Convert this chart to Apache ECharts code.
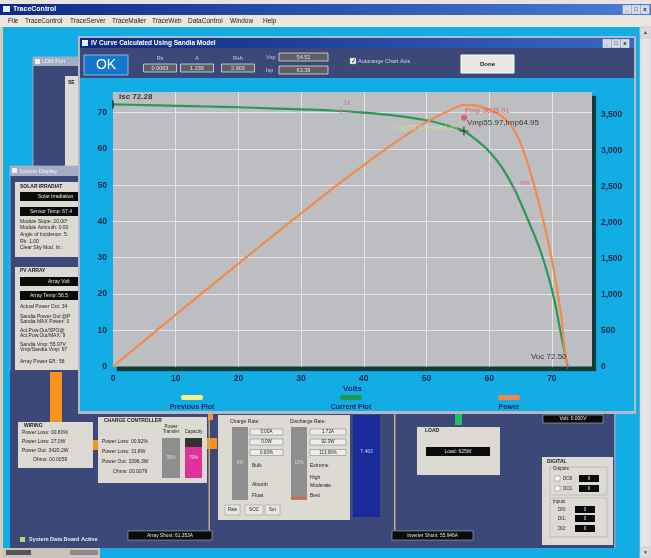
<!DOCTYPE html>
<html><head><meta charset="utf-8">
<script src="https://cdn.jsdelivr.net/npm/echarts@6/dist/echarts.min.js"></script>
<style>html,body{margin:0;padding:0;background:#12ade4;overflow:hidden}#c{width:651px;height:558px}</style>
</head><body><div id="c"></div>
<script>
// ---------- DATA ----------
const volts       = [0, 5, 10, 15, 20, 25, 30, 35, 40, 45, 50, 53, 55.97, 58, 60, 62, 64, 66, 68, 69.5, 70.5, 71.5, 72.1, 72.5];
const currentAmps = [72.28, 72.1, 71.9, 71.7, 71.5, 71.2, 70.9, 70.6, 70.0, 69.2, 67.9, 66.6, 64.95, 62.4, 59.3, 55.0, 49.0, 41.2, 32.8, 24.5, 17.5, 8.5, 3.5, 0];
const powerWatts  = [0, 360, 719, 1075, 1430, 1780, 2127, 2471, 2800, 3114, 3395, 3530, 3635, 3625, 3570, 3480, 3290, 2866, 2250, 1700, 1240, 700, 190, 0];

const xAxisMax = 76.4, ampsAxisMax = 75.7, wattsAxisMax = 3815;
const xTickStep = 10, ampsTickStep = 10, wattsTickStep = 500;

const legendNames  = ['Previous Plot', 'Current Plot', 'Power'];
const legendColors = ['#f7f08a', '#1d9a50', '#f08848'];

const iscPoint  = [0, 72.28];
const ixPoint   = [36.3, 70.6];
const ixxPoint  = [64.0, 49.0];
const pmpMarker = [56.0, 68.6];
const vmpPoint  = [55.97, 64.95];
const vocPoint  = [72.5, 0];
const annotationTexts = { isc: 'Isc 72.28', ix: 'Ix', ixx: 'Ixx', pmp: 'Pmp 3635.91', vmp: 'Vmp55.97,Imp64.95', prev: 'Vmp55.97,Imp64.95', voc: 'Voc 72.50' };

// ---------- helpers for window chrome ----------
const FONT = '"Liberation Sans", Arial, sans-serif';
const NAVY = '#3b4878', PANEL = '#dcdad3', CYAN = '#12ade4', ORANGE = '#f7941d', BLACK = '#0b0b0b';
let zc = 0;
function R(x, y, w, h, fill, stroke, lw, r, z) {
  return { type: 'rect', silent: true, z: z || -20, z2: zc++, shape: { x: x, y: y, width: w, height: h, r: r || 0 },
    style: { fill: fill, stroke: stroke || null, lineWidth: stroke ? (lw || 1) : 0 } };
}
function T(x, y, text, fill, size, weight, align, z) {
  return { type: 'text', silent: true, z: z || -20, z2: zc++,
    style: { x: x, y: y, text: text, fill: fill, font: (weight || 'normal') + ' ' + size + 'px ' + FONT, align: align || 'left', verticalAlign: 'middle' } };
}
function winBtns(x, y, s) {
  const out = [];
  ['_', '□', 'x'].forEach((c, i) => { out.push(R(x + i * (s + 1), y, s, s, '#d4d8e4', '#ffffff', 0.5)); out.push(T(x + i * (s + 1) + s / 2, y + s / 2, c, '#222', s - 2, 'bold', 'center')); });
  return out;
}
const grad = (a, b) => new echarts.graphic.LinearGradient(0, 0, 1, 0, [{ offset: 0, color: a }, { offset: 1, color: b }]);

const g = [];
// app frame
g.push(R(0, 0, 651, 4, '#e9e2de'));
g.push(R(0, 4, 651, 11, grad('#0b2a86', '#4a7dd6')));
g.push(R(3, 6, 7, 6, '#e8eef8'));
g.push(T(13, 9.5, 'TraceControl', '#ffffff', 7, 'bold'));
g.push(...winBtns(623, 5.5, 8));
g.push(R(0, 15, 651, 12, '#ebe7df'));
[['File', 8], ['TraceControl', 25], ['TraceServer', 70], ['TraceMailer', 112], ['TraceWeb', 152], ['DataControl', 188], ['Window', 230], ['Help', 263]]
  .forEach(m => g.push(T(m[1], 21, m[0], '#222', 6.5)));
g.push(R(640, 27, 11, 531, '#e4e4e4', '#c8c8c8', 0.5));
g.push(R(640, 27, 11, 11, '#dadada', '#bdbdbd', 0.5)); g.push(T(645.5, 32.5, '▲', '#444', 5, 'normal', 'center'));
g.push(R(640, 547, 11, 11, '#dadada', '#bdbdbd', 0.5)); g.push(T(645.5, 552.5, '▼', '#444', 5, 'normal', 'center'));
g.push(R(0, 27, 3, 531, '#d6ccb6'));

// LDM window
g.push(R(33, 57, 50, 110, NAVY, '#b0b4c0', 0.8));
g.push(R(33, 57, 50, 9, '#a4acc6'));
g.push(R(35, 59, 5, 5, '#f0f0f0'));
g.push(T(42, 61.5, 'LDM Port', '#f4f4f8', 5.5));
g.push(R(65, 76, 18, 91, PANEL));
g.push(T(68, 83, 'SE', '#222', 5, 'bold'));

// System display window
g.push(R(10, 166, 72, 206, NAVY, '#b0b4c0', 0.8));
g.push(R(10, 166, 72, 10, '#a4acc6'));
g.push(R(12, 168, 5, 5, '#f0f0f0'));
g.push(T(19, 171, 'System Display', '#f4f4f8', 5.5));
g.push(R(15, 182, 67, 75, PANEL));
g.push(T(20, 186.5, 'SOLAR IRRADIAT', '#1a1a1a', 5, 'bold'));
g.push(R(20, 192, 62, 9, BLACK)); g.push(T(38, 196.5, 'Solar Irradiation', '#e8e8e8', 5));
g.push(R(20, 207, 62, 9, BLACK)); g.push(T(30, 211.5, 'Sensor Temp: 67.4', '#e8e8e8', 5));
[['Module Slope: 20.00°', 222], ['Module Azimuth: 0.00', 228], ['Angle of Incidence: 5.', 235], ['Rb: 1.00', 242], ['Clear Sky Mod. Irr.: ', 248]]
  .forEach(l => g.push(T(20, l[1], l[0], '#222', 5)));
g.push(R(15, 267, 67, 103, PANEL));
g.push(T(20, 271, 'PV ARRAY', '#1a1a1a', 5, 'bold'));
g.push(R(20, 277, 62, 9, BLACK)); g.push(T(48, 281.5, 'Array Volt', '#e8e8e8', 5));
g.push(R(20, 291, 62, 9, BLACK)); g.push(T(30, 295.5, 'Array Temp: 56.5', '#e8e8e8', 5));
[['Actual Power Out: 34', 307], ['Sandia Power Out @P', 317], ['Sandia MAX Power: 3', 322], ['Act.Pow.Out/SPO@', 331], ['Act.Pow.Out/MAX: 9', 336],
 ['Sandia Vmp: 55.97V', 345], ['Vmp/Sandia Vmp: 97', 350], ['Array Power Eff.: 58', 362]].forEach(l => g.push(T(20, l[1], l[0], '#222', 5)));

// lower navy desktop
g.push(R(10, 370, 605, 178, NAVY));
g.push(R(614, 370, 1.5, 178, '#9aa0b8'));
g.push(R(50, 372, 12, 50, ORANGE));

// IV dialog
g.push(R(78, 36, 558, 378, '#b4b8c4'));
g.push(R(80, 38, 554, 10, grad('#0b2a80', '#3a66c0')));
g.push(R(82, 40, 6, 6, '#e8eef8'));
g.push(T(91, 43, 'IV Curve Calculated Using Sandia Model', '#ffffff', 6.5, 'bold'));
g.push(...winBtns(603, 39.5, 8));
g.push(R(80, 48, 554, 30, NAVY));
g.push(R(80, 78, 554, 333, CYAN));
g.push(R(84, 55, 44, 20, '#1577cc', '#7fb8e8', 1));
g.push(T(106, 65.5, 'OK', '#ffffff', 14, 'normal', 'center'));
[['Rs', 160, '0.0063'], ['A', 197, '1.239'], ['Rsh', 238, '2.903']].forEach(p => {
  g.push(T(p[1], 58, p[0], '#c8ccda', 5.5, 'normal', 'center'));
  g.push(R(p[1] - 16.5, 64, 33, 8, '#5d5f66', '#e0e0e0', 0.8));
  g.push(T(p[1], 68, p[2], '#e0e0e0', 5.5, 'normal', 'center'));
});
g.push(T(266, 57.5, 'Vsp', '#c8ccda', 5.5));
g.push(R(279, 53, 49, 8, '#5d5f66', '#e0e0e0', 0.8)); g.push(T(303.5, 57, '54.52', '#e0e0e0', 5.5, 'normal', 'center'));
g.push(T(266, 70, 'Isp', '#c8ccda', 5.5));
g.push(R(279, 66, 49, 8, '#5d5f66', '#e0e0e0', 0.8)); g.push(T(303.5, 70, '63.39', '#e0e0e0', 5.5, 'normal', 'center'));
g.push(R(350, 58, 6, 6, '#ffffff', '#888', 0.5)); g.push(T(353, 61, '✓', '#222', 5.5, 'bold', 'center'));
g.push(T(358, 61, 'Autorange Chart Axis', '#d0d4e0', 5.5));
g.push(R(461, 55, 53, 18, '#e8e6de', '#ffffff', 1));
g.push(T(487.5, 64, 'Done', '#222', 6, 'bold', 'center'));

// legend
[181, 340, 498].forEach((sx, i) => {
  g.push(R(sx, 395, 22, 5, legendColors[i], null, 0, 2, 10));
  g.push(T(sx + 11, 407, legendNames[i], '#1b2a66', 7, 'bold', 'center', 10));
});

// WIRING
g.push(R(18, 422, 75, 46, PANEL));
g.push(T(24, 425.5, 'WIRING', '#1a1a1a', 5, 'bold'));
[['Power Loss: 00.80%', 433], ['Power Loss: 27.0W', 442], ['Power Out: 3420.2W', 451]].forEach(l => g.push(T(22, l[1], l[0], '#222', 5)));
g.push(T(33, 460, 'Ohms: 00.0059', '#222', 5));
g.push(R(93, 440, 6, 10, ORANGE));
// CHARGE CONTROLLER
g.push(R(98, 417, 109, 66, PANEL));
g.push(T(104, 420.5, 'CHARGE CONTROLLER', '#1a1a1a', 5, 'bold'));
g.push(T(171, 427, 'Power', '#222', 4.5, 'normal', 'center'));
g.push(T(171, 432, 'Transfer', '#222', 4.5, 'normal', 'center'));
g.push(T(193.5, 432, 'Capacity', '#222', 4.5, 'normal', 'center'));
[['Power Loss: 00.92%', 442], ['Power Loss: 31.8W', 452], ['Power Out: 3396.3W', 462]].forEach(l => g.push(T(102, l[1], l[0], '#222', 5)));
g.push(T(113, 472, 'Ohms: 00.0079', '#222', 5));
g.push(R(162, 438, 18, 40, '#8e8e8e')); g.push(T(171, 458, '99%', '#dddddd', 4.5, 'normal', 'center'));
g.push(R(185, 438, 17, 9, '#333333'));
g.push(R(185, 447, 17, 31, '#e0309a')); g.push(T(193.5, 458, '79%', '#fbe0f0', 4.5, 'normal', 'center'));
g.push(R(207, 438, 10, 11, ORANGE));
g.push(R(208, 414, 5, 6, ORANGE));
g.push(R(208.5, 414, 1.5, 116, '#c8a878'));
// Battery panel
g.push(R(218, 415, 132, 105, PANEL));
g.push(T(230, 422, 'Charge Rate:', '#222', 5));
g.push(R(232, 427, 16, 73, '#8e8e8e')); g.push(T(240, 463, '0%', '#dddddd', 4.5, 'normal', 'center'));
[['0.00A', 432], ['0.0W', 442], ['0.00%', 452.5]].forEach(b => { g.push(R(250, b[1] - 3, 33, 6, '#ececec', '#777', 0.5)); g.push(T(266.5, b[1], b[0], '#222', 4.5, 'normal', 'center')); });
[['Bulk', 466], ['Absorb', 485], ['Float', 496]].forEach(l => g.push(T(252, l[1], l[0], '#222', 5)));
g.push(T(290, 422, 'Discharge Rate:', '#222', 5));
g.push(R(291, 427, 16, 73, '#8e8e8e')); g.push(T(299, 463, '10%', '#dddddd', 4.5, 'normal', 'center'));
g.push(R(291, 497, 16, 2, '#e86030'));
[['1.72A', 432], ['92.3W', 442], ['113.06%', 452.5]].forEach(b => { g.push(R(310, b[1] - 3, 36, 6, '#ececec', '#777', 0.5)); g.push(T(328, b[1], b[0], '#222', 4.5, 'normal', 'center')); });
[['Extreme', 466], ['High', 478], ['Moderate', 486], ['Best', 496]].forEach(l => g.push(T(310, l[1], l[0], '#222', 5)));
[['Rate', 225, 15], ['SOC', 245, 18], ['Set', 265, 15]].forEach(t => { g.push(R(t[1], 505, t[2], 10, '#e8e6e0', '#888', 0.5)); g.push(T(t[1] + t[2] / 2, 510, t[0], '#222', 4.5, 'normal', 'center')); });
g.push(R(353, 415, 27, 102, '#1a2a9a'));
g.push(T(366.5, 452, '7.463', '#d8c8ff', 5, 'normal', 'center'));
g.push(R(394, 414, 1.5, 116, '#c8b078'));
// LOAD
g.push(R(455, 414, 7, 11, '#22c060'));
g.push(R(417, 427, 83, 48, PANEL));
g.push(T(425, 431, 'LOAD', '#1a1a1a', 5, 'bold'));
g.push(R(426, 447, 64, 9, BLACK)); g.push(T(458, 451.5, 'Load: 625W', '#e8e8e8', 5, 'normal', 'center'));
g.push(R(543, 415, 60, 8, BLACK, '#cccccc', 0.5)); g.push(T(573, 419, 'Volt: 0.000V', '#e8e8e8', 5, 'normal', 'center'));
// DIGITAL
g.push(R(542, 457, 71, 88, PANEL));
g.push(T(547, 462, 'DIGITAL', '#1a1a1a', 5, 'bold'));
g.push(R(550, 467, 57, 28, null, '#aaaaaa', 0.6)); g.push(T(553, 468.5, 'Outputs', '#222', 4.5));
[['DO0', 478.5], ['DO1', 488.5]].forEach(r => { g.push(R(555, r[1] - 2.5, 5, 5, '#ffffff', '#777', 0.5)); g.push(T(563, r[1], r[0], '#222', 4.5)); g.push(R(579, r[1] - 3.5, 20, 7, BLACK)); g.push(T(589, r[1], '0', '#e8e8e8', 4.5, 'normal', 'center')); });
g.push(R(550, 498, 57, 39, null, '#aaaaaa', 0.6)); g.push(T(553, 502, 'Inputs', '#222', 4.5));
[['DI0:', 509.5], ['DI1:', 518.5], ['DI2:', 528.5]].forEach(r => { g.push(T(558, r[1], r[0], '#222', 4.5)); g.push(R(575, r[1] - 3.5, 20, 7, BLACK)); g.push(T(585, r[1], '0', '#e8e8e8', 4.5, 'normal', 'center')); });
// shunts and status
g.push(R(128, 531, 84, 9, BLACK, '#cccccc', 0.5)); g.push(T(170, 535.5, 'Array Shunt: 61.353A', '#e8e8e8', 4.8, 'normal', 'center'));
g.push(R(392, 531, 81, 9, BLACK, '#cccccc', 0.5)); g.push(T(432.5, 535.5, 'Inverter Shunt: 55.946A', '#e8e8e8', 4.8, 'normal', 'center'));
g.push(R(20, 537, 5, 5, '#a8e070'));
g.push(T(29, 539.5, 'System Data Board Active', '#e8ecf4', 5.5, 'bold'));
g.push(R(3, 548, 97, 10, '#c8c4bc'));
g.push(R(6, 550, 25, 5, '#555'));
g.push(R(70, 550, 28, 5, '#8a8a8a'));

// ---------- CHART ----------
const crossPath = 'path://M5,0L5,10M0,5L10,5';
const axisLabelStyle = { color: '#1b2747', fontWeight: 'bold', fontSize: 8.5, fontFamily: FONT };
const splitStyle = { lineStyle: { color: '#e2e4e6', width: 1 }, showMinLine: false, showMaxLine: false };

const chart = echarts.init(document.getElementById('c'));
chart.setOption({
  animation: false,
  backgroundColor: CYAN,
  graphic: { elements: g },
  grid: { left: 113, top: 92, width: 479, height: 274.5, show: true, backgroundColor: '#bcbec1', borderWidth: 0,
          shadowColor: '#0f3b3d', shadowOffsetX: 4, shadowOffsetY: 4, shadowBlur: 1 },
  xAxis: { type: 'value', min: 0, max: xAxisMax, interval: xTickStep,
    name: 'Volts', nameLocation: 'middle', nameGap: 17, nameTextStyle: { color: '#1b2a66', fontWeight: 'bold', fontSize: 8, fontFamily: FONT },
    axisLine: { show: false }, axisTick: { show: false },
    axisLabel: Object.assign({ margin: 8, showMaxLabel: false }, axisLabelStyle), splitLine: splitStyle },
  yAxis: [
    { type: 'value', min: 0, max: ampsAxisMax, interval: ampsTickStep, axisLine: { show: false }, axisTick: { show: false },
      axisLabel: Object.assign({ margin: 6, showMaxLabel: false }, axisLabelStyle), splitLine: splitStyle },
    { type: 'value', position: 'right', min: 0, max: wattsAxisMax, interval: wattsTickStep, axisLine: { show: false }, axisTick: { show: false },
      axisLabel: Object.assign({ margin: 9, showMaxLabel: false }, axisLabelStyle), splitLine: { show: false } }
  ],
  series: [
    { type: 'line', name: 'Current Plot', yAxisIndex: 0, data: volts.map((v, i) => [v, currentAmps[i]]), showSymbol: false,
      smooth: 0.25, lineStyle: { color: '#2d9659', width: 2.2 }, z: 3 },
    { type: 'line', name: 'Power', yAxisIndex: 1, data: volts.map((v, i) => [v, powerWatts[i]]), showSymbol: false,
      smooth: 0.25, lineStyle: { color: '#f28a4c', width: 2.2 }, z: 4 },
    { type: 'scatter', yAxisIndex: 0, z: 6, silent: true, data: [
      { value: iscPoint, symbol: 'rect', symbolSize: [1.5, 8], itemStyle: { color: '#111' },
        label: { show: true, formatter: annotationTexts.isc, position: 'inside', align: 'left', offset: [6, -8], color: '#111', fontSize: 8, fontWeight: 'bold', fontFamily: FONT } },
      { value: ixPoint, symbol: crossPath, symbolSize: 6, itemStyle: { color: 'transparent', borderColor: '#e0609a', borderWidth: 1 },
        label: { show: true, formatter: annotationTexts.ix, position: 'inside', align: 'left', offset: [4, -8], color: '#e0509a', fontSize: 8, fontFamily: FONT } },
      { value: ixxPoint, symbol: crossPath, symbolSize: 5, itemStyle: { color: 'transparent', borderColor: '#c07090', borderWidth: 1 },
        label: { show: true, formatter: annotationTexts.ixx, position: 'inside', align: 'left', offset: [6, -6], color: '#e0509a', fontSize: 7.5, fontFamily: FONT } },
      { value: vmpPoint, symbolSize: 0,
        label: { show: true, formatter: annotationTexts.prev, position: 'inside', align: 'right', offset: [-7, -3], color: '#cfe88e', fontSize: 7, fontFamily: FONT } },
      { value: pmpMarker, symbol: 'circle', symbolSize: 6, itemStyle: { color: '#ee4a50' },
        label: { show: true, formatter: annotationTexts.pmp, position: 'inside', align: 'left', offset: [1, -7], color: '#e8505a', fontSize: 7.5, fontFamily: FONT } },
      { value: vmpPoint, symbol: crossPath, symbolSize: 9, itemStyle: { color: 'transparent', borderColor: '#222', borderWidth: 1.2 },
        label: { show: true, formatter: annotationTexts.vmp, position: 'inside', align: 'left', offset: [3, -8], color: '#111', fontSize: 8, fontFamily: FONT } },
      { value: vocPoint, symbol: crossPath, symbolSize: 5, itemStyle: { color: 'transparent', borderColor: '#777', borderWidth: 1 },
        label: { show: true, formatter: annotationTexts.voc, position: 'inside', align: 'right', offset: [-1, -9.5], color: '#111', fontSize: 8, fontFamily: FONT } }
    ] }
  ]
});
</script>
</body></html>
